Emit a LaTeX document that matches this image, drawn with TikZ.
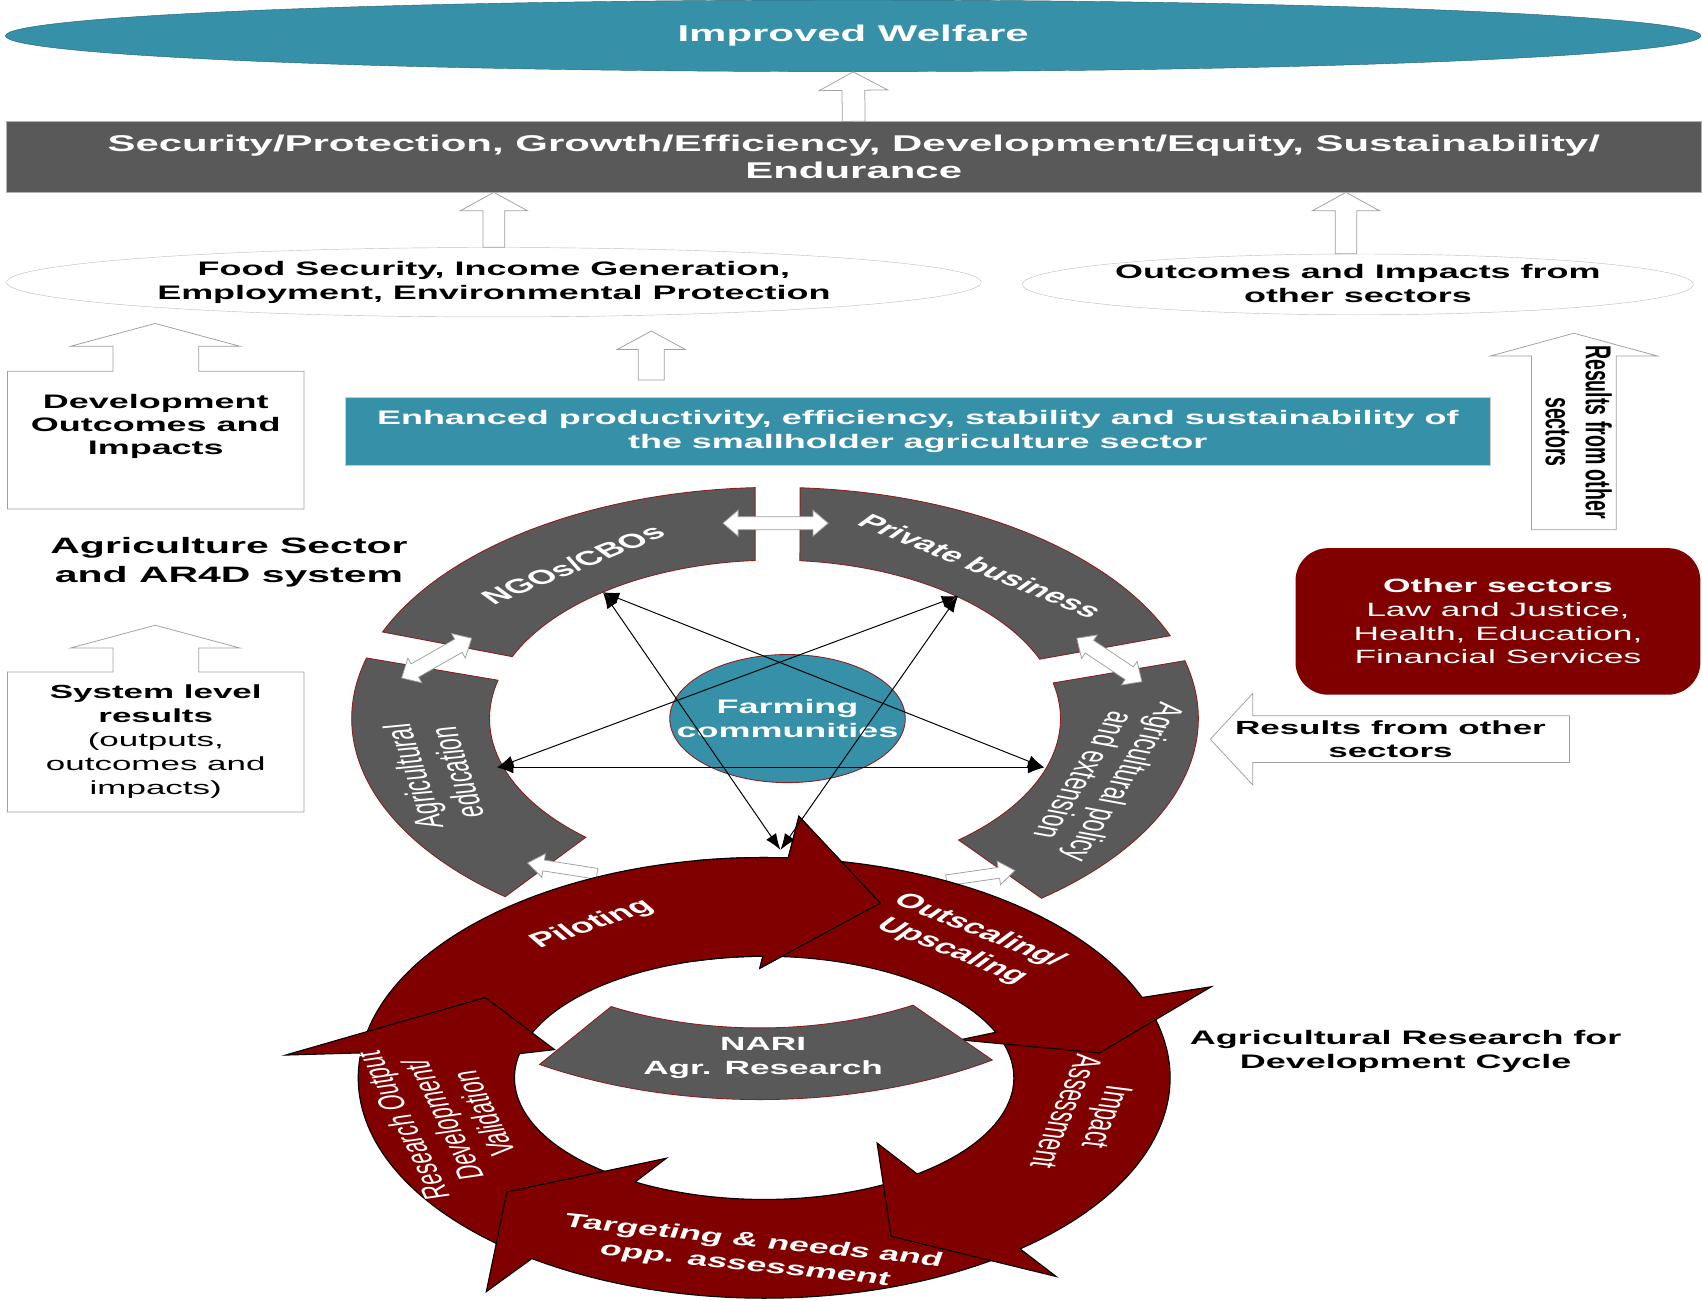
\documentclass[tikz,border=0pt]{standalone}
\usepackage{graphicx}
\usepackage{fontspec}
\setmainfont{Liberation Sans}[FakeStretch=1.84]
\newfontfamily\plainsans{Liberation Sans}
\usetikzlibrary{arrows.meta,positioning,calc,shapes.geometric}

\definecolor{agteal}{RGB}{54,144,168}
\definecolor{darkgrey}{RGB}{89,89,89}
\definecolor{cyclered}{RGB}{128,0,0}
\definecolor{rimred}{RGB}{140,30,30}

% hollow block arrow: from, to, shaft half width, head half width, head length
\newcommand{\blockarrow}[5]{%
  \coordinate (bh) at ($(#2)!#5!(#1)$);
  \draw[hollow] ($(#1)!#3!90:(#2)$) -- ($(bh)!#3!90:(#2)$) -- ($(bh)!#4!90:(#2)$) -- (#2)
    -- ($(bh)!#4!-90:(#2)$) -- ($(bh)!#3!-90:(#2)$) -- ($(#1)!#3!-90:(#2)$) -- cycle;}
% hollow block arrow with two heads
\newcommand{\twowayarrow}[5]{%
  \coordinate (ha) at ($(#1)!#5!(#2)$);
  \coordinate (hb) at ($(#2)!#5!(#1)$);
  \draw[hollow] (#1) -- ($(ha)!#4!90:(#2)$) -- ($(ha)!#3!90:(#2)$) -- ($(hb)!#3!90:(#2)$)
    -- ($(hb)!#4!90:(#2)$) -- (#2) -- ($(hb)!#4!-90:(#2)$) -- ($(hb)!#3!-90:(#2)$)
    -- ($(ha)!#3!-90:(#2)$) -- ($(ha)!#4!-90:(#2)$) -- cycle;}
% grey ring segment: outer start, outer end, inner start, inner end
\newcommand{\ringseg}[4]{%
  \draw[ringseg] ($(ring)+(#1:390 and 213)$) arc[start angle=#1, end angle=#2, x radius=390, y radius=213]
    -- ($(ring)+(#3:263 and 146)$) arc[start angle=#3, end angle=#4, x radius=263, y radius=146] -- cycle;}
% red cycle arrow: outer start, outer end, wing, tip, wing, inner start, inner end
\newcommand{\cyclearrow}[7]{%
  \draw[cyc] ($(cyc)+(#1:374 and 203)$) arc[start angle=#1, end angle=#2, x radius=374, y radius=203]
    -- #3 -- #4 -- #5 -- ($(cyc)+(#6:230 and 112)$) arc[start angle=#6, end angle=#7, x radius=230, y radius=112] -- cycle;}
% rotated text, stretched like the rest of the figure
\newcommand{\srot}[3]{\scalebox{1.84}[1]{\rotatebox{#1}{#2\begin{tabular}{@{}c@{}}#3\end{tabular}}}}

\begin{document}
\begin{tikzpicture}[x=1pt, y=-1pt,
    hollow/.style={fill=white, draw=gray!75, line width=0.7pt},
    ringseg/.style={fill=darkgrey, draw=rimred, line width=0.8pt},
    cyc/.style={fill=cyclered, draw=black, line width=1pt},
    linkarrow/.style={{Latex[length=15pt,width=11pt]}-{Latex[length=15pt,width=11pt]}, line width=0.9pt},
    lbl/.style={align=center, inner sep=0pt}]
\useasboundingbox (0,0) rectangle (1568,1198);

% Goals
\node[ellipse, fill=agteal, draw=agteal!70!black, minimum width=1562pt, minimum height=66pt, inner sep=0pt,
  text=white, font=\bfseries\fontsize{21}{24}\selectfont] (welfare) at (786,33) {Improved Welfare};
\node[fill=darkgrey, draw=gray!60, minimum width=1561pt, minimum height=65pt, inner sep=0pt, text=white,
  align=center, font=\bfseries\fontsize{21}{24.5}\selectfont] (values) at (786.5,144.5)
  {Security/Protection, Growth/Efficiency, Development/Equity, Sustainability/\\Endurance};
\node[ellipse, fill=white, draw=gray!50, minimum width=898pt, minimum height=64pt, inner xsep=-20pt, inner ysep=0pt,
  align=center, font=\bfseries\fontsize{18}{22}\selectfont] (food) at (455,260)
  {Food Security, Income Generation,\\Employment, Environmental Protection};
\node[ellipse, fill=white, draw=gray!50, minimum width=618pt, minimum height=56pt, inner xsep=-20pt, inner ysep=-2pt,
  align=center, font=\bfseries\fontsize{18}{22}\selectfont] (othout) at (1251,262)
  {\raisebox{2pt}{Outcomes and Impacts from}\\\raisebox{2pt}{other sectors}};

% Arrows between goals
\blockarrow{values.north}{welfare.south}{10.5pt}{31.5pt}{17pt}
\coordinate (fv) at (food.north |- values.south);
\blockarrow{food.north}{fv}{10pt}{31pt}{17pt}
\coordinate (oo) at ([xshift=-11pt]othout.north);
\coordinate (ov) at (oo |- values.south);
\blockarrow{oo}{ov}{10pt}{31pt}{17pt}

% Sector outcome
\node[fill=agteal, draw=gray!40, minimum width=1055pt, minimum height=63pt, inner sep=0pt, text=white,
  align=center, font=\bfseries\fontsize{18}{21.5}\selectfont] (enhanced) at (845.5,397.5)
  {Enhanced productivity, efficiency, stability and sustainability of\\the smallholder agriculture sector};
\coordinate (ef1) at (600,350);
\coordinate (ef2) at (600,305);
\blockarrow{ef1}{ef2}{12pt}{31.5pt}{17pt}

% Left column
\draw[hollow] (7,342) -- (104,342) -- (104,319) -- (65,319) -- (143,298) -- (221,319) -- (183,319)
  -- (183,342) -- (280,342) -- (280,469) -- (7,469) -- cycle;
\node[lbl, font=\bfseries\fontsize{18}{21.3}\selectfont] (devout) at (143.5,393) {Development\\Outcomes and\\Impacts};
\node[lbl, font=\bfseries\fontsize{20.5}{26}\selectfont] (agsys) at (211,518) {Agriculture Sector\\and AR4D system};
\draw[hollow] (7,619) -- (104,619) -- (104,597) -- (65,597) -- (143,576) -- (221,597) -- (183,597)
  -- (183,619) -- (280,619) -- (280,748) -- (7,748) -- cycle;
\node[lbl, font=\fontsize{17.5}{22}\selectfont] (sysres) at (143.5,683)
  {\textbf{System level}\\\textbf{results}\\(outputs,\\outcomes and\\impacts)};

% Right column
\node[fill=cyclered, rounded corners=30pt, minimum width=373pt, minimum height=135pt, inner sep=0pt, text=white,
  align=center, font=\fontsize{17.7}{21.7}\selectfont] (othersec) at (1380,572.5)
  {\textbf{Other sectors}\\Law and Justice,\\Health, Education,\\Financial Services};
\coordinate (rs1) at (1450,488);
\coordinate (rs2) at (1450,307);
\blockarrow{rs1}{rs2}{39pt}{77pt}{21pt}
\node[lbl] (rsup) at (1450,398) {\srot{-90}{\plainsans\bfseries\fontsize{18}{20}\selectfont}{Results from other\\sectors}};
\coordinate (rl1) at (1446,681);
\coordinate (rl2) at (1115,681);
\blockarrow{rl1}{rl2}{21.5pt}{42pt}{39pt}
\node[lbl, font=\bfseries\fontsize{17.5}{21}\selectfont] (rsleft) at (1281,681) {Results from other\\sectors};
\node[lbl, font=\bfseries\fontsize{18}{22}\selectfont] (ar4d) at (1295,969) {Agricultural Research for\\Development Cycle};

% Actors ring
\coordinate (ring) at (714,662);
\ringseg{-158}{-92.7}{-94}{-157}
\ringseg{-86.6}{-21}{-22}{-85}
\ringseg{129.6}{195.2}{194}{131.5}
\ringseg{-14.5}{51}{50}{-13}
\coordinate (ngoR) at (666,482);
\coordinate (pbL) at (763,482);
\twowayarrow{ngoR}{pbL}{6pt}{12pt}{14pt}
\coordinate (ngoL) at (434.5,588);
\coordinate (eduT) at (370,624.6);
\twowayarrow{ngoL}{eduT}{7pt}{13pt}{14pt}
\coordinate (pbR) at (992,588);
\coordinate (polT) at (1052,628);
\twowayarrow{pbR}{polT}{7pt}{13pt}{14pt}
\coordinate (cycL) at (550,805);
\coordinate (eduB) at (486,795);
\blockarrow{cycL}{eduB}{5pt}{11pt}{15pt}
\coordinate (cycR) at (872,811);
\coordinate (polB) at (935,802);
\blockarrow{cycR}{polB}{5pt}{11pt}{15pt}
\node[lbl, text=white] (ngotxt) at (530,522) {\srot{36.6}{\plainsans\bfseries\fontsize{18.4}{22}\selectfont}{NGOs/CBOs}};
\node[lbl, text=white] (pbtxt) at (901,523) {\srot{-36.6}{\plainsans\bfseries\fontsize{18.4}{22}\selectfont}{Private business}};
\node[lbl, text=white] (edutxt) at (405,713) {\srot{100}{\plainsans\fontsize{19.5}{22}\selectfont}{Agricultural\\education}};
\node[lbl, text=white] (poltxt) at (1013,717) {\srot{-108.8}{\plainsans\fontsize{19.5}{21}\selectfont}{Agricultural policy\\and extension}};
\node[ellipse, fill=agteal, draw=rimred, line width=0.8pt, minimum width=217pt, minimum height=118pt,
  inner xsep=-40pt, inner ysep=0pt, text=white, align=center, font=\bfseries\fontsize{18}{22}\selectfont]
  (farm) at (725.5,662) {Farming\\communities};

% AR4D cycle
\coordinate (cyc) at (704,993);
\cyclearrow{191}{273.4}{(736,752)}{(811,832)}{(700,892)}{269.7}{194}
\cyclearrow{128}{186.5}{(263,972)}{(447,919)}{(511,967)}{191.5}{128}
\cyclearrow{55}{124.9}{(448,1190)}{(467,1098)}{(614,1067)}{121.1}{55}
\cyclearrow{-20}{50.9}{(973,1176)}{(821,1139)}{(808,1053)}{52.2}{-20}
\cyclearrow{272}{338.6}{(1116,909)}{(1013,970)}{(884,958)}{338}{272}
\begin{scope}
  \clip (640,700) rectangle (900,950);
  \cyclearrow{191}{273.4}{(736,752)}{(811,832)}{(700,892)}{269.7}{194}
\end{scope}
\coordinate (nari) at (700,800);
\draw[ringseg] ($(nari)+(56:383 and 213)$) arc[start angle=56, end angle=122, x radius=383, y radius=213]
  -- ($(nari)+(120:274 and 147)$) arc[start angle=120, end angle=59, x radius=274, y radius=147] -- cycle;
\node[lbl, text=white, font=\bfseries\fontsize{17.6}{22}\selectfont] (naritxt) at (703,975) {NARI\\Agr. Research};
\node[lbl, text=white] (pilot) at (546,852) {\srot{32.4}{\plainsans\bfseries\fontsize{18.7}{22}\selectfont}{Piloting}};
\node[lbl, text=white] (outscale) at (889,867) {\srot{-36}{\plainsans\bfseries\fontsize{18.5}{23}\selectfont}{Outscaling/\\Upscaling}};
\node[lbl, text=white] (impact) at (997,1026) {\srot{-103}{\plainsans\fontsize{19.5}{21}\selectfont}{Impact\\Assessment}};
\node[lbl, text=white] (target) at (690,1155) {\srot{-10.9}{\plainsans\bfseries\fontsize{18}{22}\selectfont}{Targeting \& needs and\\opp. assessment}};
\node[lbl, text=white] (resout) at (412,1031) {\srot{104.9}{\plainsans\fontsize{18.5}{21}\selectfont}{Research Output\\Development/\\Validation}};

% Links between actors
\coordinate (ngoin) at (555.5,545.6);
\coordinate (pbin) at (882.6,549);
\coordinate (eduin) at (458,707);
\coordinate (polin) at (962,707);
\coordinate (narin) at (719,783);
\draw[linkarrow] (ngoin) -- (narin);
\draw[linkarrow] (ngoin) -- (polin);
\draw[linkarrow] (pbin) -- (eduin);
\draw[linkarrow] (pbin) -- (narin);
\draw[linkarrow] (eduin) -- (polin);
\end{tikzpicture}
\end{document}
